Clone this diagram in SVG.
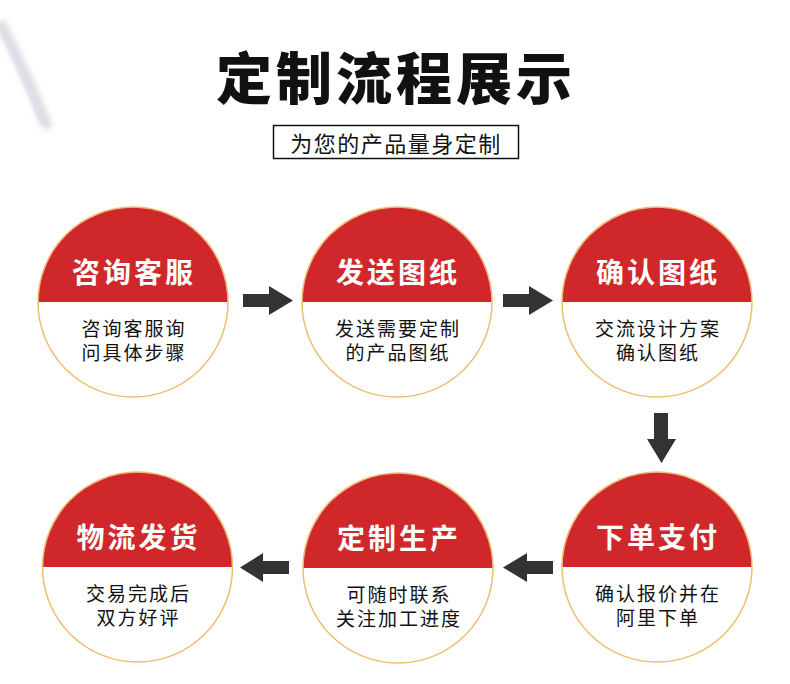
<svg xmlns="http://www.w3.org/2000/svg" width="790" height="684" viewBox="0 0 790 684">
<defs>
<filter id="blur" x="-50%" y="-50%" width="200%" height="200%"><feGaussianBlur stdDeviation="3"/></filter>
<filter id="blur2" x="-50%" y="-50%" width="200%" height="200%"><feGaussianBlur stdDeviation="1.2"/></filter>
</defs>
<style>
.t{font-family:"Noto Sans CJK SC","Noto Sans",sans-serif;dominant-baseline:central;text-anchor:middle}
.title{font-size:56px;font-weight:900;fill:#111;letter-spacing:4px}
.sub{font-size:22px;fill:#111;letter-spacing:1.5px}
.hd{font-size:28px;font-weight:700;fill:#fff;letter-spacing:3px}
.bd{font-family:"Liberation Sans","Noto Sans CJK SC",sans-serif;font-size:19px;fill:#111;letter-spacing:2px;text-anchor:middle}
.ring{fill:#fff;stroke:#eebd6e;stroke-width:1.5}
.red{fill:#d0272a}
.arrow{fill:#333}
</style>
<rect width="790" height="684" fill="#fff"/>
<g id="streak">
<path d="M0 22 Q25 70 48 128" stroke="#a8a8b6" stroke-width="9" fill="none" filter="url(#blur)" opacity="0.45"/>
<path d="M0 28 Q22 72 42 124" stroke="#dedef0" stroke-width="3.5" fill="none" filter="url(#blur2)"/>
</g>
<g id="title">
<text class="t title" x="396" y="74">定制流程展示</text>
<rect x="273.5" y="125.5" width="245" height="33" fill="none" stroke="#111" stroke-width="1.5"/>
<text class="t sub" x="396" y="142">为您的产品量身定制</text>
</g>
<g id="connectors">
<path class="arrow" d="M243 294 H269 V286 L293 300.5 L269 315 V307 H243 Z"/>
<path class="arrow" d="M503 294 H529 V286 L553 300.5 L529 315 V307 H503 Z"/>
<path class="arrow" d="M654 413 V439 H647 L661.5 463 L676 439 H668 V413 Z"/>
<path class="arrow" d="M553 561 H527 V553 L503 567.5 L527 582 V574 H553 Z"/>
<path class="arrow" d="M289 561 H263 V553 L240 567.5 L263 582 V574 H289 Z"/>
</g>
<g id="node1">
<circle class="ring" cx="133" cy="302" r="95"/>
<path class="red" d="M38.7 302 A94.3 94.3 0 0 1 227.3 302 Z"/>
<text class="t hd" x="134" y="271">咨询客服</text>
<text class="bd" x="134" y="336">咨询客服询</text>
<text class="bd" x="134" y="360">问具体步骤</text>
</g>
<g id="node2">
<circle class="ring" cx="397" cy="302" r="95"/>
<path class="red" d="M302.7 302 A94.3 94.3 0 0 1 491.3 302 Z"/>
<text class="t hd" x="398" y="271">发送图纸</text>
<text class="bd" x="398" y="336">发送需要定制</text>
<text class="bd" x="398" y="360">的产品图纸</text>
</g>
<g id="node3">
<circle class="ring" cx="657" cy="302" r="95"/>
<path class="red" d="M562.7 302 A94.3 94.3 0 0 1 751.3 302 Z"/>
<text class="t hd" x="658" y="271">确认图纸</text>
<text class="bd" x="658" y="336">交流设计方案</text>
<text class="bd" x="658" y="360">确认图纸</text>
</g>
<g id="node4">
<circle class="ring" cx="657" cy="567" r="95"/>
<path class="red" d="M562.7 567 A94.3 94.3 0 0 1 751.3 567 Z"/>
<text class="t hd" x="658" y="536">下单支付</text>
<text class="bd" x="658" y="601">确认报价并在</text>
<text class="bd" x="658" y="625">阿里下单</text>
</g>
<g id="node5">
<circle class="ring" cx="398" cy="568" r="95"/>
<path class="red" d="M303.7 568 A94.3 94.3 0 0 1 492.3 568 Z"/>
<text class="t hd" x="399" y="537">定制生产</text>
<text class="bd" x="399" y="602">可随时联系</text>
<text class="bd" x="399" y="626">关注加工进度</text>
</g>
<g id="node6">
<circle class="ring" cx="137.5" cy="567" r="95"/>
<path class="red" d="M43.2 567 A94.3 94.3 0 0 1 231.8 567 Z"/>
<text class="t hd" x="138.5" y="536">物流发货</text>
<text class="bd" x="138.5" y="601">交易完成后</text>
<text class="bd" x="138.5" y="625">双方好评</text>
</g>
</svg>
